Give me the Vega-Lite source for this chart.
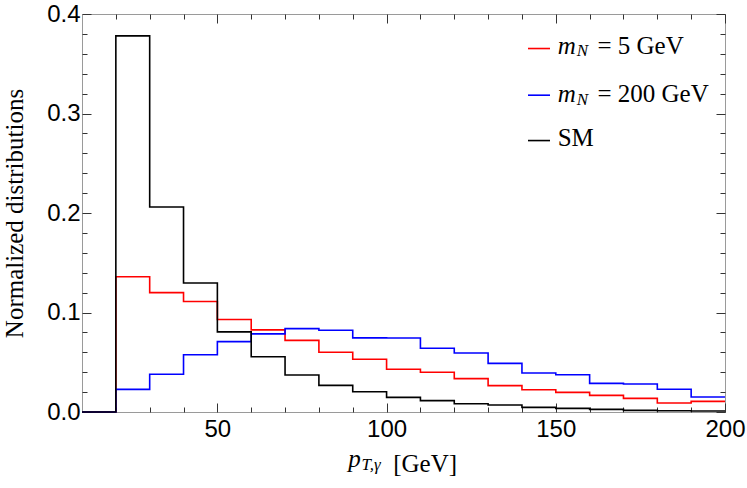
{
  "$schema": "https://vega.github.io/schema/vega-lite/v6.json",
  "width": 643,
  "height": 398,
  "autosize": {"type": "none"},
  "padding": {"left": 82, "top": 14, "right": 22, "bottom": 76},
  "background": "white",
  "config": {"view": {"stroke": "#9a9a9a", "strokeWidth": 1}},
  "datasets": {
    "hist": [
      {"s": "mN=5", "pt": 10, "v": 0},
      {"s": "mN=5", "pt": 20, "v": 0.136},
      {"s": "mN=5", "pt": 30, "v": 0.120},
      {"s": "mN=5", "pt": 40, "v": 0.111},
      {"s": "mN=5", "pt": 50, "v": 0.093},
      {"s": "mN=5", "pt": 60, "v": 0.0825},
      {"s": "mN=5", "pt": 70, "v": 0.072},
      {"s": "mN=5", "pt": 80, "v": 0.060},
      {"s": "mN=5", "pt": 90, "v": 0.053},
      {"s": "mN=5", "pt": 100, "v": 0.043},
      {"s": "mN=5", "pt": 110, "v": 0.040},
      {"s": "mN=5", "pt": 120, "v": 0.0335},
      {"s": "mN=5", "pt": 130, "v": 0.0265},
      {"s": "mN=5", "pt": 140, "v": 0.0224},
      {"s": "mN=5", "pt": 150, "v": 0.0197},
      {"s": "mN=5", "pt": 160, "v": 0.0167},
      {"s": "mN=5", "pt": 170, "v": 0.0137},
      {"s": "mN=5", "pt": 180, "v": 0.009},
      {"s": "mN=5", "pt": 190, "v": 0.0107},
      {"s": "mN=5", "pt": 200, "v": 0.0107},
      {"s": "mN=200", "pt": 10, "v": 0},
      {"s": "mN=200", "pt": 20, "v": 0.0227},
      {"s": "mN=200", "pt": 30, "v": 0.038},
      {"s": "mN=200", "pt": 40, "v": 0.0576},
      {"s": "mN=200", "pt": 50, "v": 0.0707},
      {"s": "mN=200", "pt": 60, "v": 0.0785},
      {"s": "mN=200", "pt": 70, "v": 0.0838},
      {"s": "mN=200", "pt": 80, "v": 0.0821},
      {"s": "mN=200", "pt": 90, "v": 0.0745},
      {"s": "mN=200", "pt": 100, "v": 0.0743},
      {"s": "mN=200", "pt": 110, "v": 0.064},
      {"s": "mN=200", "pt": 120, "v": 0.0593},
      {"s": "mN=200", "pt": 130, "v": 0.0489},
      {"s": "mN=200", "pt": 140, "v": 0.0392},
      {"s": "mN=200", "pt": 150, "v": 0.0375},
      {"s": "mN=200", "pt": 160, "v": 0.0288},
      {"s": "mN=200", "pt": 170, "v": 0.0281},
      {"s": "mN=200", "pt": 180, "v": 0.0228},
      {"s": "mN=200", "pt": 190, "v": 0.0151},
      {"s": "mN=200", "pt": 200, "v": 0.0151},
      {"s": "SM", "pt": 10, "v": 0},
      {"s": "SM", "pt": 20, "v": 0.378},
      {"s": "SM", "pt": 30, "v": 0.206},
      {"s": "SM", "pt": 40, "v": 0.1297},
      {"s": "SM", "pt": 50, "v": 0.0805},
      {"s": "SM", "pt": 60, "v": 0.0556},
      {"s": "SM", "pt": 70, "v": 0.0372},
      {"s": "SM", "pt": 80, "v": 0.0268},
      {"s": "SM", "pt": 90, "v": 0.0204},
      {"s": "SM", "pt": 100, "v": 0.0147},
      {"s": "SM", "pt": 110, "v": 0.0114},
      {"s": "SM", "pt": 120, "v": 0.0083},
      {"s": "SM", "pt": 130, "v": 0.007},
      {"s": "SM", "pt": 140, "v": 0.0046},
      {"s": "SM", "pt": 150, "v": 0.0036},
      {"s": "SM", "pt": 160, "v": 0.0026},
      {"s": "SM", "pt": 170, "v": 0.0016},
      {"s": "SM", "pt": 180, "v": 0.0012},
      {"s": "SM", "pt": 190, "v": 0.001},
      {"s": "SM", "pt": 200, "v": 0.001}
    ],
    "txt": [
      {"g": "it", "x": 150.56, "y": 0.3603, "t": "m"},
      {"g": "it", "x": 150.56, "y": 0.3113, "t": "m"},
      {"g": "it", "x": 88.66, "y": -0.0555, "t": "p"},
      {"g": "sub", "x": 156.17, "y": 0.3576, "t": "N"},
      {"g": "sub", "x": 156.17, "y": 0.3086, "t": "N"},
      {"g": "sub", "x": 92.6, "y": -0.0582, "t": "T,γ"},
      {"g": "rm", "x": 162.3, "y": 0.3603, "t": "= 5 GeV"},
      {"g": "rm", "x": 162.3, "y": 0.3113, "t": "= 200 GeV"},
      {"g": "rm", "x": 150.56, "y": 0.2671, "t": "SM"},
      {"g": "rm", "x": 101.96, "y": -0.060, "t": "[GeV]"}
    ],
    "leg": [
      {"s": "mN=5", "x": 141.78, "x2": 148.29, "y": 0.3653},
      {"s": "mN=200", "x": 141.78, "x2": 148.29, "y": 0.3184},
      {"s": "SM", "x": 141.78, "x2": 148.29, "y": 0.2728}
    ]
  },
  "layer": [
    {
      "data": {"name": "hist"},
      "mark": {"type": "line", "interpolate": "step-after", "strokeWidth": 1.6},
      "encoding": {
        "x": {
          "field": "pt", "type": "quantitative",
          "scale": {"domain": [10, 200], "nice": false, "zero": false},
          "axis": {
            "orient": "bottom", "title": null, "grid": false, "domain": false,
            "values": [20, 30, 40, 50, 60, 70, 80, 90, 100, 110, 120, 130, 140, 150, 160, 170, 180, 190, 200],
            "labelExpr": "datum.value % 50 === 0 ? datum.label : ''",
            "tickSize": {"condition": {"test": "datum.value % 50 === 0", "value": -9}, "value": -5},
            "tickColor": "#333333",
            "labelFont": "Liberation Sans", "labelFontSize": 24, "labelColor": "black",
            "labelPadding": 14, "labelFlush": false, "labelOverlap": false
          }
        },
        "y": {
          "field": "v", "type": "quantitative",
          "scale": {"domain": [0, 0.4], "nice": false},
          "axis": {
            "orient": "left", "grid": false, "domain": false,
            "values": [0, 0.02, 0.04, 0.06, 0.08, 0.1, 0.12, 0.14, 0.16, 0.18, 0.2, 0.22, 0.24, 0.26, 0.28, 0.3, 0.32, 0.34, 0.36, 0.38, 0.4],
            "labelExpr": "abs(datum.value * 10 - round(datum.value * 10)) < 0.000001 ? format(datum.value, '.1f') : ''",
            "tickSize": {"condition": {"test": "abs(datum.value * 10 - round(datum.value * 10)) < 0.000001", "value": -9}, "value": -5},
            "tickColor": "#333333",
            "labelFont": "Liberation Sans", "labelFontSize": 24, "labelColor": "black",
            "labelPadding": 11, "labelFlush": false, "labelOverlap": false,
            "title": "Normalized distributions",
            "titleFont": "Liberation Serif", "titleFontSize": 25, "titleFontWeight": "normal",
            "titleColor": "black", "titlePadding": 19
          }
        },
        "color": {
          "field": "s", "type": "nominal",
          "scale": {"domain": ["mN=5", "mN=200", "SM"], "range": ["#ff0000", "#0000ff", "#000000"]},
          "legend": null
        }
      }
    },
    {
      "data": {"name": "hist"},
      "mark": {"type": "point", "opacity": 0},
      "encoding": {
        "x": {
          "field": "pt", "type": "quantitative",
          "scale": {"domain": [10, 200], "nice": false, "zero": false},
          "axis": {
            "orient": "top", "title": null, "grid": false, "domain": false, "labels": false,
            "values": [20, 30, 40, 50, 60, 70, 80, 90, 100, 110, 120, 130, 140, 150, 160, 170, 180, 190, 200],
            "tickSize": {"condition": {"test": "datum.value % 50 === 0", "value": -9}, "value": -5},
            "tickColor": "#333333"
          }
        },
        "y": {
          "field": "v", "type": "quantitative",
          "scale": {"domain": [0, 0.4], "nice": false},
          "axis": {
            "orient": "right", "title": null, "grid": false, "domain": false, "labels": false,
            "values": [0, 0.02, 0.04, 0.06, 0.08, 0.1, 0.12, 0.14, 0.16, 0.18, 0.2, 0.22, 0.24, 0.26, 0.28, 0.3, 0.32, 0.34, 0.36, 0.38, 0.4],
            "tickSize": {"condition": {"test": "abs(datum.value * 10 - round(datum.value * 10)) < 0.000001", "value": -9}, "value": -5},
            "tickColor": "#333333"
          }
        }
      }
    },
    {
      "data": {"name": "leg"},
      "mark": {"type": "rule", "strokeWidth": 1.6},
      "encoding": {
        "x": {"field": "x", "type": "quantitative", "scale": {"domain": [10, 200], "nice": false, "zero": false}, "axis": null},
        "x2": {"field": "x2"},
        "y": {"field": "y", "type": "quantitative", "scale": {"domain": [0, 0.4], "nice": false}, "axis": null},
        "color": {"field": "s", "type": "nominal", "legend": null}
      }
    },
    {
      "data": {"name": "txt"},
      "transform": [{"filter": "datum.g === 'it'"}],
      "mark": {"type": "text", "font": "Liberation Serif", "fontSize": 25, "fontStyle": "italic", "align": "left", "baseline": "alphabetic", "color": "black"},
      "encoding": {
        "x": {"field": "x", "type": "quantitative", "scale": {"domain": [10, 200], "nice": false, "zero": false}, "axis": null},
        "y": {"field": "y", "type": "quantitative", "scale": {"domain": [0, 0.4], "nice": false}, "axis": null},
        "text": {"field": "t"}
      }
    },
    {
      "data": {"name": "txt"},
      "transform": [{"filter": "datum.g === 'sub'"}],
      "mark": {"type": "text", "font": "Liberation Serif", "fontSize": 17, "fontStyle": "italic", "align": "left", "baseline": "alphabetic", "color": "black"},
      "encoding": {
        "x": {"field": "x", "type": "quantitative", "scale": {"domain": [10, 200], "nice": false, "zero": false}, "axis": null},
        "y": {"field": "y", "type": "quantitative", "scale": {"domain": [0, 0.4], "nice": false}, "axis": null},
        "text": {"field": "t"}
      }
    },
    {
      "data": {"name": "txt"},
      "transform": [{"filter": "datum.g === 'rm'"}],
      "mark": {"type": "text", "font": "Liberation Serif", "fontSize": 25, "align": "left", "baseline": "alphabetic", "color": "black"},
      "encoding": {
        "x": {"field": "x", "type": "quantitative", "scale": {"domain": [10, 200], "nice": false, "zero": false}, "axis": null},
        "y": {"field": "y", "type": "quantitative", "scale": {"domain": [0, 0.4], "nice": false}, "axis": null},
        "text": {"field": "t"}
      }
    }
  ],
  "resolve": {"axis": {"x": "independent", "y": "independent"}}
}
